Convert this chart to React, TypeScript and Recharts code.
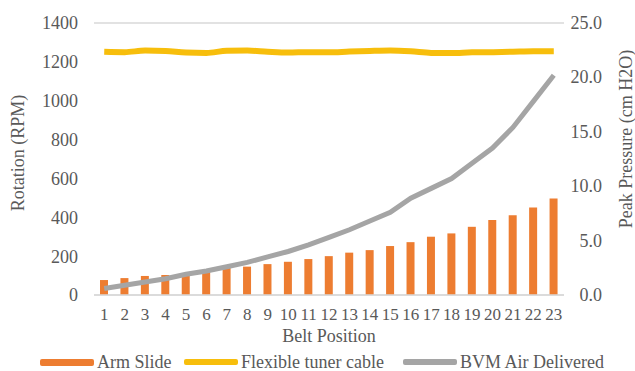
import React from "react";
import { ComposedChart, Bar, Line, XAxis, YAxis, CartesianGrid, Legend } from "recharts";

const positions = ["1","2","3","4","5","6","7","8","9","10","11","12","13","14","15","16","17","18","19","20","21","22","23"];
const armSlide = [77, 87, 98, 103, 111, 118, 139, 146, 159, 171, 185, 200, 218, 231, 252, 272, 300, 317, 351, 386, 411, 451, 497];
const flexibleTuner = [1252, 1250, 1258, 1256, 1248, 1246, 1257, 1258, 1252, 1248, 1250, 1249, 1253, 1256, 1258, 1254, 1246, 1245, 1249, 1250, 1252, 1254, 1254];
const bvmAir = [0.6, 0.9, 1.2, 1.5, 1.9, 2.2, 2.6, 3.0, 3.5, 4.0, 4.6, 5.3, 6.0, 6.8, 7.6, 8.9, 9.8, 10.7, 12.1, 13.5, 15.4, 17.8, 20.2];
const leftTicks = [0, 200, 400, 600, 800, 1000, 1200, 1400];
const rightTicks = [0, 5, 10, 15, 20, 25];

const data = positions.map((p, i) => ({
  pos: p,
  arm: armSlide[i],
  flex: flexibleTuner[i],
  bvm: bvmAir[i],
}));

const FONT = "Liberation Serif, DejaVu Serif, serif";
const TEXT = "#595959";
const ORANGE = "#ED7D31";
const YELLOW = "#F7BE0C";
const GRAY = "#A5A5A5";

const RightTick = (props: any) => {
  const { x, y, payload } = props;
  return (
    <text x={x + 36} y={y} textAnchor="end" dominantBaseline="central" fontFamily={FONT} fontSize={18} fill={TEXT}>
      {Number(payload.value).toFixed(1)}
    </text>
  );
};

const LeftLabel = (props: any) => {
  const vb = props.viewBox;
  const cx = vb.x + 18;
  const cy = vb.y + vb.height / 2 - 6;
  return (
    <text x={cx} y={cy} transform={`rotate(-90 ${cx} ${cy})`} textAnchor="middle" dominantBaseline="central" fontFamily={FONT} fontSize={18} fill={TEXT}>
      Rotation (RPM)
    </text>
  );
};

const RightLabel = (props: any) => {
  const vb = props.viewBox;
  const cx = vb.x + 62;
  const cy = vb.y + vb.height / 2 - 20;
  return (
    <text x={cx} y={cy} transform={`rotate(-90 ${cx} ${cy})`} textAnchor="middle" dominantBaseline="central" fontFamily={FONT} fontSize={18} fill={TEXT}>
      Peak  Pressure (cm H2O)
    </text>
  );
};

const legendItems = [
  { name: "Arm Slide", color: ORANGE, left: 40, h: 7 },
  { name: "Flexible tuner cable", color: YELLOW, left: 184, h: 6 },
  { name: "BVM Air Delivered", color: GRAY, left: 403, h: 6 },
];

const CustomLegend = () => (
  <div style={{ position: "relative", height: 28, width: 635 }}>
    {legendItems.map((it) => (
      <div
        key={it.name}
        style={{
          position: "absolute",
          left: it.left,
          top: 9,
          height: 20,
          display: "flex",
          alignItems: "center",
          fontFamily: FONT,
          fontSize: 18,
          color: TEXT,
          whiteSpace: "nowrap",
        }}
      >
        <span style={{ display: "inline-block", width: 54, height: it.h, background: it.color, marginRight: 3, borderRadius: 2 }} />
        <span>{it.name}</span>
      </div>
    ))}
  </div>
);

export default function App() {
  return (
    <div style={{ position: "absolute", left: 0, top: 0, width: 635, height: 371, background: "#fff", fontFamily: FONT }}>
      <ComposedChart width={635} height={371} data={data} margin={{ top: 23, right: 0, left: 0, bottom: 0 }}>
        <CartesianGrid vertical={false} stroke="#D9D9D9" strokeWidth={1.5} />
        <XAxis
          dataKey="pos"
          height={48}
          axisLine={{ stroke: "#D9D9D9", strokeWidth: 1.5 }}
          tickLine={false}
          tickSize={0}
          tickMargin={13}
          interval={0}
          tick={{ fontFamily: FONT, fontSize: 17, fill: TEXT }}
          label={{ value: "Belt Position", position: "insideBottom", offset: 1, fontFamily: FONT, fontSize: 18, fill: TEXT }}
        />
        <YAxis
          yAxisId="left"
          width={94}
          domain={[0, 1400]}
          ticks={leftTicks}
          axisLine={false}
          tickLine={false}
          tickSize={0}
          tickMargin={16}
          tick={{ fontFamily: FONT, fontSize: 18, fill: TEXT }}
          label={<LeftLabel />}
        />
        <YAxis
          yAxisId="right"
          orientation="right"
          width={71}
          domain={[0, 25]}
          ticks={rightTicks}
          axisLine={false}
          tickLine={false}
          tickSize={0}
          tick={<RightTick />}
          label={<RightLabel />}
        />
        <Legend verticalAlign="bottom" height={28} content={<CustomLegend />} />
        <Bar yAxisId="left" dataKey="arm" name="Arm Slide" fill={ORANGE} barSize={8} isAnimationActive={false} />
        <Line yAxisId="left" dataKey="flex" name="Flexible tuner cable" type="monotone" stroke={YELLOW} strokeWidth={6} dot={false} isAnimationActive={false} />
        <Line yAxisId="right" dataKey="bvm" name="BVM Air Delivered" type="linear" stroke={GRAY} strokeWidth={5} dot={false} isAnimationActive={false} />
      </ComposedChart>
    </div>
  );
}
